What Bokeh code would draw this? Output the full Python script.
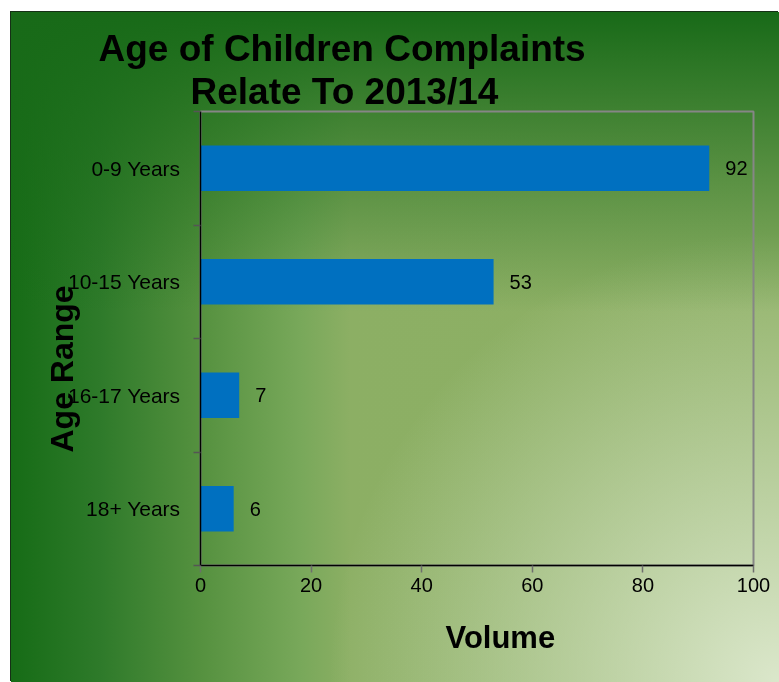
from bokeh.plotting import figure
from bokeh.models import Range1d, FixedTicker, Title, ColumnDataSource
from bokeh.embed import file_html
from bokeh.resources import INLINE
from bokeh.core.properties import value

# ---- data ----
categories = ["0-9 Years", "10-15 Years", "16-17 Years", "18+ Years"]
volumes = [92, 53, 7, 6]
x_ticks = [0, 20, 40, 60, 80, 100]
title_line1 = "Age of Children Complaints"
title_line2 = "Relate To 2013/14"
x_title = "Volume"
y_title = "Age Range"

FONT = "Liberation Sans"
n = len(categories)
positions = [n - i - 0.5 for i in range(n)]  # top to bottom
boundaries = list(range(n + 1))

src = ColumnDataSource(dict(
    cat=categories, vol=volumes, pos=positions,
    lbl=[str(v) for v in volumes],
))

W, H = 768, 670
p = figure(width=W, height=H, output_backend="svg", toolbar_location=None,
           title=None,
           x_range=Range1d(0, 100), y_range=Range1d(0, n),
           min_border_left=189, min_border_right=26,
           min_border_top=99, min_border_bottom=117)
p.background_fill_alpha = 0
p.border_fill_alpha = 0
p.outline_line_color = "#868686"
p.outline_line_width = 2
p.xgrid.visible = False
p.ygrid.visible = False

p.hbar(y="pos", right="vol", left=0, height=0.4, source=src,
       fill_color="#0070c0", line_color=None)
p.text(x="vol", y="pos", text="lbl", source=src, x_offset=16,
       text_align="left", text_baseline="middle",
       text_font=value(FONT), text_font_size=value("20px"), text_color="black")

xa = p.xaxis[0]
xa.ticker = FixedTicker(ticks=x_ticks)
xa.axis_line_color = "black"
xa.axis_line_width = 1.5
xa.major_tick_line_color = "#6e6e6e"
xa.major_tick_line_width = 1.5
xa.major_tick_out = 7
xa.major_tick_in = 0
xa.minor_tick_line_color = None
xa.major_label_text_font = FONT
xa.major_label_text_font_size = "20px"
xa.major_label_text_color = "black"
xa.major_label_standoff = 5

ya = p.yaxis[0]
ya.ticker = FixedTicker(ticks=positions, minor_ticks=boundaries)
ya.major_label_overrides = {pos: cat for pos, cat in zip(positions, categories)}
ya.axis_line_color = "black"
ya.axis_line_width = 1.5
ya.major_tick_out = 0
ya.major_tick_in = 0
ya.minor_tick_out = 7
ya.minor_tick_in = 0
ya.minor_tick_line_color = "#555555"
ya.minor_tick_line_width = 1.5
ya.major_label_text_font = FONT
ya.major_label_text_font_size = "21px"
ya.major_label_text_color = "black"
ya.major_label_standoff = 13


def ttl(text, size, offset, standoff):
    return Title(text=text, text_font=FONT, text_font_size=size,
                 text_font_style="bold", text_color="black",
                 align="left", offset=offset, standoff=standoff)


p.add_layout(ttl(title_line2, "37px", -10, 0), "above")
p.add_layout(ttl(title_line1, "37px", -102, 0), "above")
p.add_layout(ttl(x_title, "31px", 245, 47), "below")
p.add_layout(ttl(y_title, "32px", 113, -29), "left")

p.styles = {
    "position": "fixed",
    "left": "11px",
    "top": "12px",
    "box-shadow": "-1px -1px 0 0 #163016",
    "background-image": (
        "linear-gradient(to bottom, rgba(24,106,24,1) 0px, rgba(24,106,24,0) 300px), "
        "radial-gradient(circle at 100% 100%, rgba(219,231,203,1) 0px, rgba(219,231,203,0) 450px), "
        "linear-gradient(to right, rgb(22,108,22) 0px, rgb(46,122,42) 89px, "
        "rgb(85,145,63) 189px, rgb(120,168,90) 289px, rgb(140,175,100) 339px, "
        "rgb(142,176,101) 100%)"
    ),
}

open("out.html", "w").write(file_html(p, INLINE))
